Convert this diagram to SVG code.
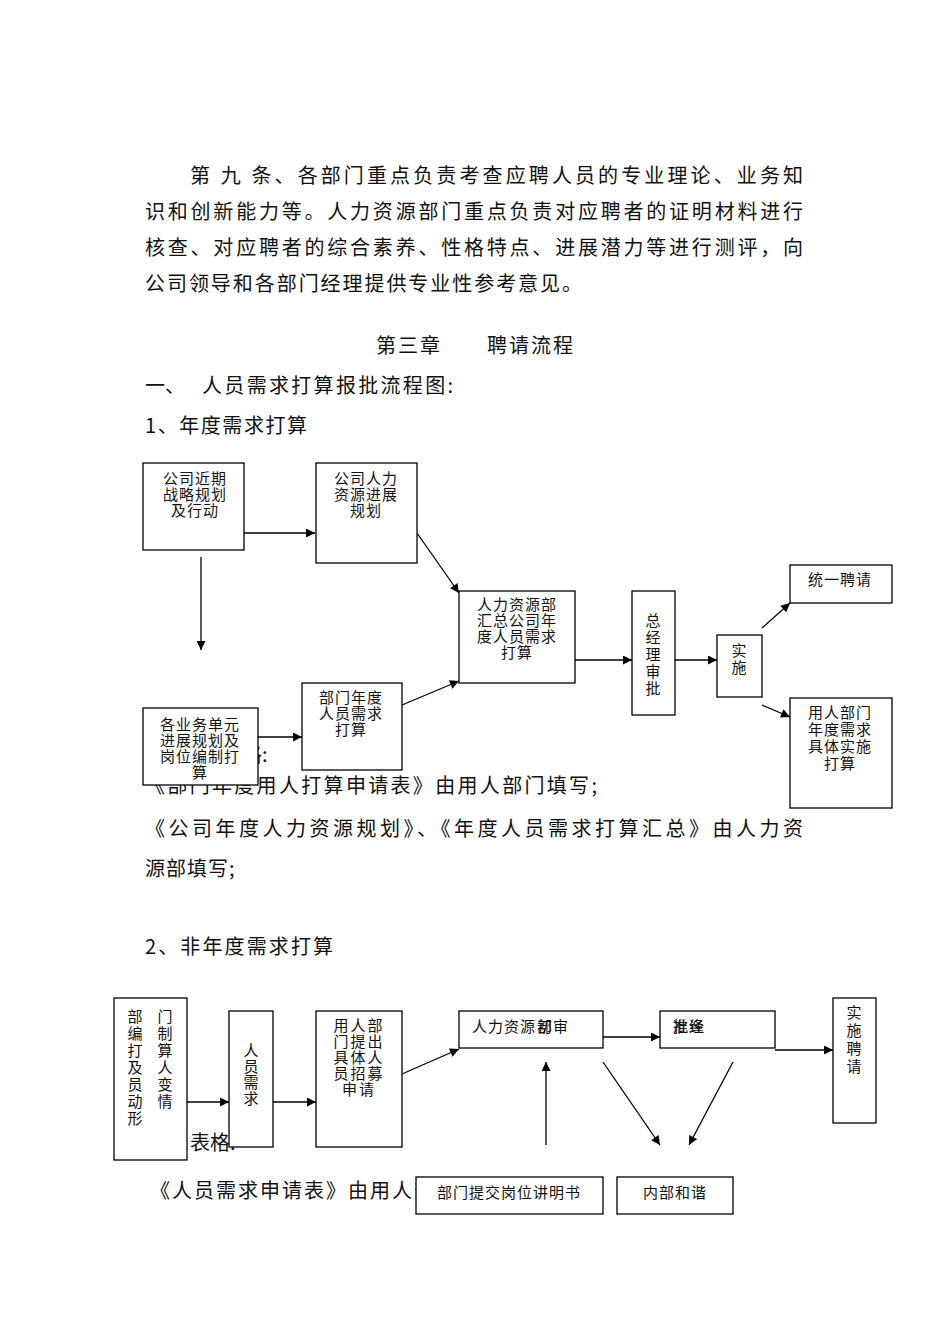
<svg xmlns="http://www.w3.org/2000/svg" width="950" height="1344" viewBox="0 0 950 1344">
<style>
.body{font-family:"Noto Sans CJK SC","Noto Sans",sans-serif;font-size:20px;fill:#111;}
.bx{font-family:"Noto Sans CJK SC","Noto Sans",sans-serif;font-size:15px;fill:#111;}
.box{fill:#fff;stroke:#000;stroke-width:1.3;}
.ln{stroke:#000;stroke-width:1.3;fill:none;marker-end:url(#ah);}
</style>
<defs>
<marker id="ah" viewBox="0 0 10 10" refX="10" refY="5" markerWidth="10" markerHeight="9" markerUnits="userSpaceOnUse" orient="auto">
<path d="M0,0 L10,5 L0,10 Z" fill="#000"/>
</marker>
</defs>
<rect width="950" height="1344" fill="#fff"/>

<g id="body-text">
<text class="body" x="190" y="183" textLength="613" lengthAdjust="spacing">第 九 条、各部门重点负责考查应聘人员的专业理论、业务知</text>
<text class="body" x="145" y="219" textLength="658" lengthAdjust="spacing">识和创新能力等。人力资源部门重点负责对应聘者的证明材料进行</text>
<text class="body" x="145" y="255" textLength="658" lengthAdjust="spacing">核查、对应聘者的综合素养、性格特点、进展潜力等进行测评，向</text>
<text class="body" x="145" y="291" textLength="437" lengthAdjust="spacing">公司领导和各部门经理提供专业性参考意见。</text>
<text class="body" x="376" y="353" textLength="64" lengthAdjust="spacing">第三章</text>
<text class="body" x="487" y="353" textLength="86" lengthAdjust="spacing">聘请流程</text>
<text class="body" x="145" y="393">一、</text>
<text class="body" x="202" y="393" textLength="251" lengthAdjust="spacing">人员需求打算报批流程图:</text>
<text class="body" x="145" y="433" textLength="162" lengthAdjust="spacing">1、年度需求打算</text>
<text class="body" x="222" y="762">表格:</text>
<text class="body" x="145" y="793" textLength="452" lengthAdjust="spacing">《部门年度用人打算申请表》由用人部门填写;</text>
<text class="body" x="145" y="836" textLength="658" lengthAdjust="spacing">《公司年度人力资源规划》、《年度人员需求打算汇总》由人力资</text>
<text class="body" x="145" y="876" letter-spacing="1">源部填写;</text>
<text class="body" x="145" y="954" textLength="188" lengthAdjust="spacing">2、非年度需求打算</text>
<text class="body" x="190" y="1150">表格:</text>
<text class="body" x="150" y="1198" letter-spacing="2">《人员需求申请表》由用人部门填写;</text>
</g>

<g id="connectors">
<line class="ln" x1="244" y1="533" x2="315" y2="533"/>
<line class="ln" x1="201" y1="557" x2="201" y2="650"/>
<line class="ln" x1="417" y1="533" x2="459" y2="593"/>
<line class="ln" x1="402" y1="705" x2="459" y2="681"/>
<line class="ln" x1="258" y1="737" x2="302" y2="737"/>
<line class="ln" x1="575" y1="660" x2="632" y2="660"/>
<line class="ln" x1="675" y1="660" x2="717" y2="660"/>
<line class="ln" x1="762" y1="628" x2="790" y2="603"/>
<line class="ln" x1="762" y1="705" x2="790" y2="717"/>
<line class="ln" x1="187" y1="1102" x2="229" y2="1102"/>
<line class="ln" x1="273" y1="1102" x2="316" y2="1102"/>
<line class="ln" x1="402" y1="1074" x2="459" y2="1049"/>
<line class="ln" x1="603" y1="1037" x2="660" y2="1037"/>
<line class="ln" x1="775" y1="1050" x2="833" y2="1050"/>
<line class="ln" x1="546" y1="1145" x2="546" y2="1062"/>
<line class="ln" x1="603" y1="1062" x2="660" y2="1145"/>
<line class="ln" x1="733" y1="1062" x2="689" y2="1145"/>
</g>

<g id="n-strategy">
<rect class="box" x="143" y="463" width="101" height="87"/>
<text class="bx" text-anchor="middle"><tspan x="195" y="484" letter-spacing="1">公司近期</tspan><tspan x="195" y="500" letter-spacing="1">战略规划</tspan><tspan x="195" y="516" letter-spacing="1">及行动</tspan></text>
</g>
<g id="n-hrplan">
<rect class="box" x="316" y="463" width="101" height="100"/>
<text class="bx" text-anchor="middle"><tspan x="366" y="484" letter-spacing="1">公司人力</tspan><tspan x="366" y="500" letter-spacing="1">资源进展</tspan><tspan x="366" y="516" letter-spacing="1">规划</tspan></text>
</g>
<g id="n-hrsum">
<rect class="box" x="459" y="591" width="116" height="92"/>
<text class="bx" text-anchor="middle"><tspan x="517" y="610" letter-spacing="1">人力资源部</tspan><tspan x="517" y="626" letter-spacing="1">汇总公司年</tspan><tspan x="517" y="642" letter-spacing="1">度人员需求</tspan><tspan x="517" y="658" letter-spacing="1">打算</tspan></text>
</g>
<g id="n-gm">
<rect class="box" x="632" y="591" width="43" height="124"/>
<text class="bx" text-anchor="middle"><tspan x="653" y="626">总</tspan><tspan x="653" y="643">经</tspan><tspan x="653" y="660">理</tspan><tspan x="653" y="677">审</tspan><tspan x="653" y="694">批</tspan></text>
</g>
<g id="n-impl">
<rect class="box" x="717" y="635" width="45" height="62"/>
<text class="bx" text-anchor="middle"><tspan x="739" y="656">实</tspan><tspan x="739" y="673">施</tspan></text>
</g>
<g id="n-unified">
<rect class="box" x="790" y="565" width="102" height="38"/>
<text class="bx" x="840" y="585" text-anchor="middle" letter-spacing="1">统一聘请</text>
</g>
<g id="n-deptimpl">
<rect class="box" x="790" y="698" width="102" height="110"/>
<text class="bx" text-anchor="middle"><tspan x="840" y="718" letter-spacing="1">用人部门</tspan><tspan x="840" y="735" letter-spacing="1">年度需求</tspan><tspan x="840" y="752" letter-spacing="1">具体实施</tspan><tspan x="840" y="769" letter-spacing="1">打算</tspan></text>
</g>
<g id="n-deptyear">
<rect class="box" x="302" y="683" width="100" height="87"/>
<text class="bx" text-anchor="middle"><tspan x="351" y="703" letter-spacing="1">部门年度</tspan><tspan x="351" y="719" letter-spacing="1">人员需求</tspan><tspan x="351" y="735" letter-spacing="1">打算</tspan></text>
</g>
<g id="n-units">
<rect class="box" x="143" y="708" width="115" height="77"/>
<text class="bx" text-anchor="middle"><tspan x="200" y="730" letter-spacing="1">各业务单元</tspan><tspan x="200" y="746" letter-spacing="1">进展规划及</tspan><tspan x="200" y="762" letter-spacing="1">岗位编制打</tspan><tspan x="200" y="778" letter-spacing="1">算</tspan></text>
</g>

<g id="n-deptchange">
<rect class="box" x="114" y="998" width="73" height="162"/>
<text class="bx" text-anchor="middle"><tspan x="135" y="1022">部</tspan><tspan x="135" y="1039">编</tspan><tspan x="135" y="1056">打</tspan><tspan x="135" y="1073">及</tspan><tspan x="135" y="1090">员</tspan><tspan x="135" y="1107">动</tspan><tspan x="135" y="1124">形</tspan></text>
<text class="bx" text-anchor="middle"><tspan x="165" y="1022">门</tspan><tspan x="165" y="1039">制</tspan><tspan x="165" y="1056">算</tspan><tspan x="165" y="1073">人</tspan><tspan x="165" y="1090">变</tspan><tspan x="165" y="1107">情</tspan></text>
</g>
<g id="n-demand">
<rect class="box" x="229" y="1011" width="44" height="136"/>
<text class="bx" text-anchor="middle"><tspan x="251" y="1056">人</tspan><tspan x="251" y="1072">员</tspan><tspan x="251" y="1088">需</tspan><tspan x="251" y="1104">求</tspan></text>
</g>
<g id="n-request">
<rect class="box" x="316" y="1011" width="86" height="136"/>
<text class="bx" text-anchor="middle"><tspan x="359" y="1031" letter-spacing="2">用人部</tspan><tspan x="359" y="1047" letter-spacing="2">门提出</tspan><tspan x="359" y="1063" letter-spacing="2">具体人</tspan><tspan x="359" y="1079" letter-spacing="2">员招募</tspan><tspan x="359" y="1095" letter-spacing="2">申请</tspan></text>
</g>
<g id="n-hrreview">
<rect class="box" x="459" y="1011" width="144" height="37"/>
<text class="bx" x="472" y="1032" letter-spacing="1">人力资源</text>
<text class="bx" x="537" y="1032">部</text>
<text class="bx" x="537" y="1032">初</text>
<text class="bx" x="553" y="1032">审</text>
</g>
<g id="n-approve">
<rect class="box" x="660" y="1011" width="115" height="37"/>
<text class="bx" x="673" y="1032">批</text>
<text class="bx" x="673" y="1032">准</text>
<text class="bx" x="689" y="1032">经</text>
<text class="bx" x="689" y="1032">逢</text>
</g>
<g id="n-recruit">
<rect class="box" x="833" y="998" width="43" height="125"/>
<text class="bx" text-anchor="middle"><tspan x="854" y="1018">实</tspan><tspan x="854" y="1036">施</tspan><tspan x="854" y="1054">聘</tspan><tspan x="854" y="1072">请</tspan></text>
</g>
<g id="n-jobdesc">
<rect class="box" x="416" y="1177" width="187" height="37"/>
<text class="bx" x="509" y="1198" text-anchor="middle" letter-spacing="1">部门提交岗位讲明书</text>
</g>
<g id="n-internal">
<rect class="box" x="617" y="1177" width="116" height="37"/>
<text class="bx" x="675" y="1198" text-anchor="middle" letter-spacing="1">内部和谐</text>
</g>
</svg>
